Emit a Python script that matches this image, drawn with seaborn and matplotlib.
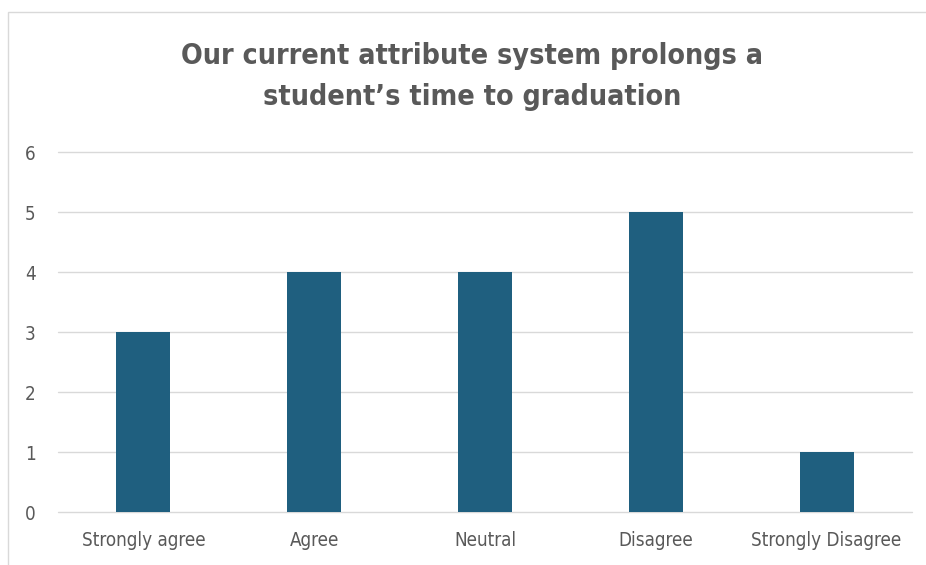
import matplotlib
matplotlib.use("Agg")
import matplotlib.pyplot as plt
from matplotlib.patches import Rectangle
import seaborn as sns
import pandas as pd

categories = ["Strongly agree", "Agree", "Neutral", "Disagree", "Strongly Disagree"]
counts = [3, 4, 4, 5, 1]
yticks = [0, 1, 2, 3, 4, 5, 6]
title = "Our current attribute system prolongs a\nstudent\u2019s time to graduation"

sns.set_theme(style="white")
plt.rcParams["font.family"] = ["DejaVu Sans"]
plt.rcParams["font.stretch"] = "condensed"

W, H = 926, 565
fig = plt.figure(figsize=(W / 100, H / 100), dpi=100)
fig.patch.set_facecolor("white")

# chart outline
fig.add_artist(Rectangle((8 / W, -0.05), 2.0, 1 - 12 / H + 0.05, transform=fig.transFigure,
                         fill=False, edgecolor="#d9d9d9", linewidth=1.0))

ax = fig.add_axes([58 / W, 1 - 512 / H, (912 - 58) / W, (512 - 152) / H])
df = pd.DataFrame({"category": categories, "count": counts})
sns.barplot(data=df, x="category", y="count", color="#1F5F7F", width=0.316,
            saturation=1, linewidth=0, ax=ax, zorder=3)

ax.set_ylim(0, 6)
ax.set_xlim(-0.5, len(categories) - 0.5)
ax.set_yticks(yticks)
ax.yaxis.grid(True, color="#d9d9d9", linewidth=1.0, zorder=0)
for gl in ax.get_ygridlines():
    gl.set_clip_on(False)
ax.set_axisbelow(True)
for s in ax.spines.values():
    s.set_visible(False)
ax.set_xlabel("")
ax.set_ylabel("")
ax.tick_params(axis="both", length=0, labelsize=13.5, labelcolor="#595959")
ax.tick_params(axis="y", pad=16)
ax.tick_params(axis="x", pad=14)
ax.set_facecolor("none")

fig.text(472 / W, 1 - 76.5 / H, title, ha="center", va="center", fontsize=20.5,
         fontweight="bold", fontstretch="condensed", color="#595959", linespacing=1.6)

fig.savefig("out.png", dpi=100)
